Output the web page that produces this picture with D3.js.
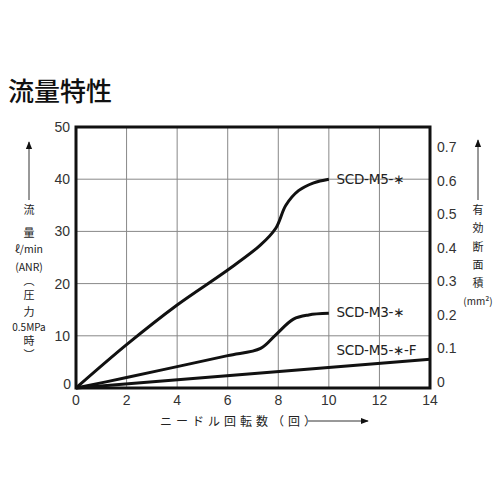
<!DOCTYPE html>
<html>
<head>
<meta charset="utf-8">
<script src="https://cdn.jsdelivr.net/npm/d3@7"></script>
<style>
body { margin: 0; background: #fff; }
text { font-family: "Liberation Sans", Arial, sans-serif; fill: #222; }
.jp { font-family: "Noto Sans CJK JP", sans-serif; }
</style>
</head>
<body>
<div id="container"></div>
<script>
// turns of the needle vs flow (L/min)
var m5 = [[0,0],[2,8.3],[4,15.9],[6,22.6],[7.3,27.4],[7.9,30.6],[8.3,35],[8.8,37.8],[9.4,39.3],[10,40]];
var m3 = [[0,0],[2,2],[4,4.1],[6,6.2],[7.3,7.6],[7.9,10.2],[8.6,13.2],[9.2,14],[10,14.3]];
var m5f = [[0,0],[14,5.5]];
var seriesNames = ["SCD-M5-∗", "SCD-M3-∗", "SCD-M5-∗-F"];
var xTicks = [0,2,4,6,8,10,12,14];
var yTicks = [0,10,20,30,40,50];
var areaTicks = [0,0.1,0.2,0.3,0.4,0.5,0.6,0.7];

var w = 500, h = 500;
var pLeft = 76, pRight = 430, pTop = 127, pBottom = 388;

var svg = d3.select('#container')
	.append("svg")
	.attr("width", w)
	.attr("height", h);

var x = d3.scaleLinear().domain([0, 14]).range([pLeft, pRight]);
var y = d3.scaleLinear().domain([0, 50]).range([pBottom, pTop]);
//right axis labels are not quite on the grid in the original
var yArea = d3.scaleLinear().domain([0, 0.7]).range([pBottom - 6, 147]);

//Title
svg.append("text")
	.attr("class", "jp")
	.attr("x", 8)
	.attr("y", 101)
	.attr("font-size", "26px")
	.attr("font-weight", "500")
	.style("fill", "#111")
	.text("流量特性");

//Grid
svg.append("g")
	.selectAll("line")
	.data(xTicks.slice(1, -1))
	.enter()
	.append("line")
	.attr("x1", function(d){ return x(d); })
	.attr("x2", function(d){ return x(d); })
	.attr("y1", pTop)
	.attr("y2", pBottom)
	.attr("stroke", "#888")
	.attr("stroke-width", 1);

svg.append("g")
	.selectAll("line")
	.data(yTicks.slice(1, -1))
	.enter()
	.append("line")
	.attr("x1", pLeft)
	.attr("x2", pRight)
	.attr("y1", function(d){ return y(d); })
	.attr("y2", function(d){ return y(d); })
	.attr("stroke", "#888")
	.attr("stroke-width", 1);

//Frame
svg.append("rect")
	.attr("x", pLeft)
	.attr("y", pTop)
	.attr("width", pRight - pLeft)
	.attr("height", pBottom - pTop)
	.attr("fill", "none")
	.attr("stroke", "#111")
	.attr("stroke-width", 3);

//Tick labels
svg.append("g")
	.selectAll("text")
	.data(xTicks)
	.enter()
	.append("text")
	.attr("text-anchor", "middle")
	.attr("x", function(d){ return x(d); })
	.attr("y", pBottom + 17)
	.attr("font-size", "14px")
	.style("fill", "#333")
	.text(function(d){ return d; });

svg.append("g")
	.selectAll("text")
	.data(yTicks)
	.enter()
	.append("text")
	.attr("text-anchor", "end")
	.attr("x", function(d){ return d === 0 ? pLeft - 5 : pLeft - 6; })
	.attr("y", function(d){ return d === 0 ? y(d) + 1 : y(d) + 5; })
	.attr("font-size", "14px")
	.style("fill", "#333")
	.text(function(d){ return d; });

svg.append("g")
	.selectAll("text")
	.data(areaTicks)
	.enter()
	.append("text")
	.attr("x", pRight + 7)
	.attr("y", function(d){ return yArea(d) + 5; })
	.attr("font-size", "14px")
	.style("fill", "#333")
	.text(function(d){ return d; });

//Curves
var line = d3.line()
	.x(function(d){ return x(d[0]); })
	.y(function(d){ return y(d[1]); })
	.curve(d3.curveCatmullRom.alpha(0.5));

var series = [m5, m3, m5f];
svg.append("g")
	.selectAll("path")
	.data(series)
	.enter()
	.append("path")
	.attr("d", line)
	.attr("fill", "none")
	.attr("stroke", "#111")
	.attr("stroke-width", 3);

//Series labels
var labelPos = [[10.3, 40], [10.3, 14.5], [10.3, 7.2]];
svg.append("g")
	.selectAll("text")
	.data(seriesNames)
	.enter()
	.append("text")
	.attr("x", function(d, i){ return x(labelPos[i][0]); })
	.attr("y", function(d, i){ return y(labelPos[i][1]) + 5; })
	.attr("font-size", "13.5px")
	.style("font-family", "'DejaVu Sans', sans-serif")
	.attr("textLength", function(d, i){ return i === 2 ? 80 : 68; })
	.text(function(d){ return d; });

//Arrows
svg.append("defs").append("marker")
	.attr("id", "arr")
	.attr("viewBox", "0 0 10 10")
	.attr("refX", 9)
	.attr("refY", 5)
	.attr("markerWidth", 8)
	.attr("markerHeight", 8)
	.attr("orient", "auto")
	.append("path")
	.attr("d", "M0,1L10,5L0,9z")
	.attr("fill", "#111");

function arrow(x1, y1, x2, y2){
	svg.append("line")
		.attr("x1", x1).attr("y1", y1)
		.attr("x2", x2).attr("y2", y2)
		.attr("stroke", "#333")
		.attr("stroke-width", 1)
		.attr("marker-end", "url(#arr)");
}

arrow(29, 200, 29, 142);
arrow(478, 200, 478, 140);
arrow(308, 421, 368, 421);

//Left axis title (vertical stack)
var leftLabel = [["流", 214, 11], ["量", 237, 11], ["ℓ/min", 253, 10.5], ["(ANR)", 271, 10.5],
	["︵", 285, 11], ["圧", 299, 11], ["力", 316, 11], ["0.5MPa", 331, 10], ["時", 345, 11], ["︶", 359, 11]];
svg.append("g")
	.selectAll("text")
	.data(leftLabel)
	.enter()
	.append("text")
	.attr("class", "jp")
	.attr("text-anchor", "middle")
	.attr("x", 29)
	.attr("y", function(d){ return d[1]; })
	.attr("font-size", function(d){ return d[2] + "px"; })
	.text(function(d){ return d[0]; });

var rightLabel = [["有", 214, 11], ["効", 232, 11], ["断", 251, 11], ["面", 269, 11], ["積", 287, 11], ["(mm²)", 305, 10]];
svg.append("g")
	.selectAll("text")
	.data(rightLabel)
	.enter()
	.append("text")
	.attr("class", "jp")
	.attr("text-anchor", "middle")
	.attr("x", 478)
	.attr("y", function(d){ return d[1]; })
	.attr("font-size", function(d){ return d[2] + "px"; })
	.text(function(d){ return d[0]; });

//X axis title
svg.append("text")
	.attr("class", "jp")
	.attr("x", 160)
	.attr("y", 426)
	.attr("font-size", "12px")
	.attr("letter-spacing", "4px")
	.text("ニードル回転数（回）");
</script>
</body>
</html>
